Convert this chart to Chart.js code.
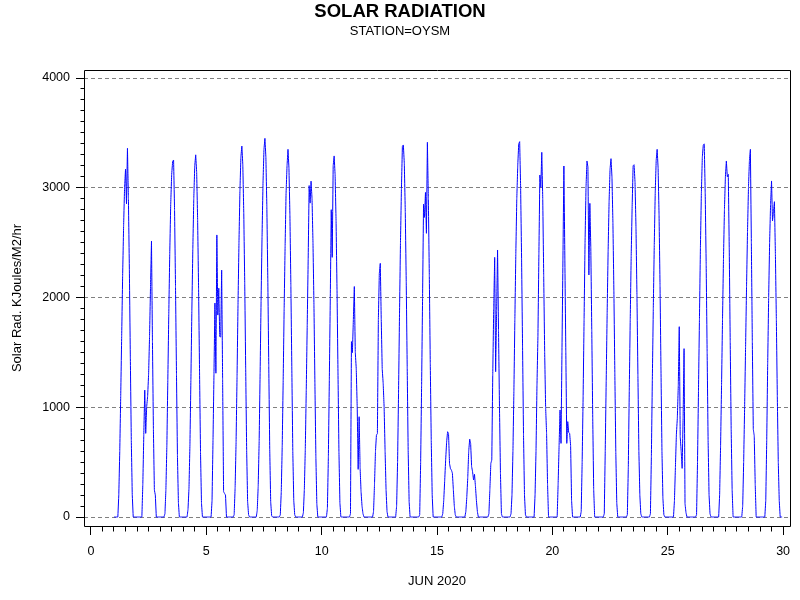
<!DOCTYPE html>
<html>
<head>
<meta charset="utf-8">
<title>Solar Radiation</title>
<script src="https://cdn.jsdelivr.net/npm/chart.js@4.4.1/dist/chart.umd.min.js"></script>
<style>
    html, body { margin: 0; padding: 0; background: #fff; }
    #wrap { width: 800px; height: 600px; }
</style>
</head>
<body>
<div id="wrap"><canvas id="solarChart" width="800" height="600"></canvas></div>
<script>
// Hourly solar radiation (KJoules/M2/hr), one array per day, hours 0..23
const JUN01 = [0,0,0,0,0,200,600,1100,1650,2200,2650,3000,3170,2852,3360,2900,2250,1450,700,200,0,0,0,0];
const JUN02 = [0,0,0,0,0,0,300,750,1157,762,1005,1100,1300,1650,2100,2515,1600,800,246,200,0,0,0,0];
const JUN03 = [0,0,0,0,0,30,250,650,1250,1850,2400,2850,3120,3240,3253,2800,2100,1300,560,130,0,0,0,0];
const JUN04 = [0,0,0,0,0,70,260,660,1250,1880,2440,2900,3200,3300,3140,2710,2080,1320,590,130,0,0,0,0];
const JUN05 = [0,0,0,0,0,0,150,700,1300,1950,1310,2570,1840,2085,1643,1640,2250,1250,230,215,200,0,0,0];
const JUN06 = [0,0,0,0,0,20,270,680,1280,1930,2500,2970,3280,3380,3210,2770,2130,1350,610,140,20,0,0,0];
const JUN07 = [0,0,0,0,0,60,280,690,1310,1970,2550,3040,3350,3450,3280,2830,2170,1380,620,140,10,0,0,0];
const JUN08 = [0,0,0,0,0,20,230,650,1250,1900,2470,2950,3200,3350,3180,2750,2110,1340,600,150,20,0,0,0];
const JUN09 = [0,0,0,0,0,40,250,620,1160,1750,2350,3020,2860,3060,2900,2500,1930,1220,550,120,0,0,0,0];
const JUN10 = [0,0,0,0,0,0,80,550,1250,2000,2800,2366,3200,3290,3120,2700,2070,1320,590,130,0,0,0,0];
const JUN11 = [0,0,0,0,0,0,30,1598,1497,1800,2100,1500,1350,1000,434,914,450,230,100,30,0,0,0,0];
const JUN12 = [0,0,0,0,0,0,50,300,600,747,760,1800,2220,2311,1800,1350,1220,1000,600,250,50,0,0,0];
const JUN13 = [0,0,0,0,0,0,100,500,1130,1850,2500,2990,3380,3390,3220,2780,2140,1360,610,140,0,0,0,0];
const JUN14 = [0,0,0,0,0,0,20,500,1200,2000,2850,2730,2958,2585,3414,2900,2200,1400,700,200,0,0,0,0];
const JUN15 = [0,0,0,0,0,0,30,150,330,520,680,777,762,489,440,428,400,250,100,20,0,0,0,0];
const JUN16 = [0,0,0,0,0,0,50,180,360,600,710,670,460,413,337,390,280,150,50,0,0,0,0,0];
const JUN17 = [0,0,0,0,0,0,30,250,489,520,1300,1900,2366,1324,1880,2433,1700,1000,400,30,0,0,0,0];
const JUN18 = [0,0,0,0,0,30,200,600,1150,1800,2400,2900,3200,3400,3420,3000,2350,1550,750,200,20,0,0,0];
const JUN19 = [0,0,0,0,0,0,200,600,1200,1650,2400,3116,3004,3323,2900,2200,1500,1000,760,300,0,0,0,0];
const JUN20 = [0,0,0,0,0,0,300,650,975,671,1510,2350,3198,2350,1510,671,869,770,762,650,150,0,0,0];
const JUN21 = [0,0,0,0,0,0,50,500,1100,1800,2500,3000,3244,3190,2205,2858,2450,1700,900,250,0,0,0,0];
const JUN22 = [0,0,0,0,0,0,30,600,1240,1860,2420,2870,3170,3265,3100,2680,2060,1310,590,130,0,0,0,0];
const JUN23 = [0,0,0,0,0,0,20,450,1150,1800,2380,2830,3200,3210,3050,2630,2020,1290,600,200,30,0,0,0];
const JUN24 = [0,0,0,0,0,0,30,550,1250,1900,2480,2950,3250,3350,3180,2750,2110,1340,600,170,20,0,0,0];
const JUN25 = [0,0,0,0,0,0,0,150,450,750,900,1200,1734,732,600,443,900,1534,120,40,0,0,0,0];
const JUN26 = [0,0,0,0,0,0,20,500,1150,1800,2450,2950,3280,3390,3400,2950,2300,1500,700,200,30,0,0,0];
const JUN27 = [0,0,0,0,0,0,200,650,1200,1800,2350,2800,3100,3244,3100,3122,2450,1600,800,250,0,0,0,0];
const JUN28 = [0,0,0,0,0,0,100,500,1000,1550,2100,2600,3000,3250,3350,2500,1600,800,740,300,0,0,0,0];
const JUN29 = [0,0,0,0,0,0,150,700,1400,2000,2500,2850,3062,2697,2780,2873,2400,1800,1100,500,150,0,0,0];

const DAYS = [JUN01, JUN02, JUN03, JUN04, JUN05, JUN06, JUN07, JUN08, JUN09, JUN10,
              JUN11, JUN12, JUN13, JUN14, JUN15, JUN16, JUN17, JUN18, JUN19, JUN20,
              JUN21, JUN22, JUN23, JUN24, JUN25, JUN26, JUN27, JUN28, JUN29];
const FIRST_DAY = 1;

// Axis ticks
const X_TICKS = [0, 5, 10, 15, 20, 25, 30];
const Y_TICKS = [0, 1000, 2000, 3000, 4000];
const X_MINOR = 0.5;
const Y_MINOR = 100;

const FONT = '"Liberation Sans", Arial, sans-serif';

// x = day of month + hour/24
const points = [];
DAYS.forEach((hours, i) => {
    hours.forEach((v, h) => points.push({ x: FIRST_DAY + i + h / 24, y: v }));
});

const alignPx = v => Math.round(v - 0.5) + 0.5;

// Box round the plot plus the short minor ticks
const frameAndMinorTicks = {
    id: 'frameAndMinorTicks',
    afterDraw(chart) {
        const { ctx, chartArea: a, scales: { x, y } } = chart;
        ctx.save();
        ctx.strokeStyle = '#000';
        ctx.lineWidth = 1;
        ctx.beginPath();
        const l = alignPx(a.left), r = alignPx(a.right), t = alignPx(a.top), b = alignPx(a.bottom);
        ctx.moveTo(l, t); ctx.lineTo(r, t); ctx.lineTo(r, b); ctx.lineTo(l, b); ctx.closePath();

        const xLast = X_TICKS[X_TICKS.length - 1];
        for (let i = 1; i * X_MINOR < xLast; i++) {
            const v = i * X_MINOR;
            if (X_TICKS.includes(v)) continue;
            const p = alignPx(x.getPixelForValue(v));
            ctx.moveTo(p, b); ctx.lineTo(p, b + 5);
        }
        const yLast = Y_TICKS[Y_TICKS.length - 1];
        for (let i = 1; i * Y_MINOR < yLast; i++) {
            const v = i * Y_MINOR;
            if (Y_TICKS.includes(v)) continue;
            const p = alignPx(y.getPixelForValue(v));
            ctx.moveTo(l, p); ctx.lineTo(l - 4, p);
        }
        ctx.stroke();
        ctx.restore();
    }
};

const ctx = document.getElementById('solarChart').getContext('2d');
const solarChart = new Chart(ctx, {
    type: 'line',
    data: {
        datasets: [{
            label: 'Solar Rad.',
            data: points,
            borderColor: '#0000ff',
            borderWidth: 1,
            pointRadius: 0,
            tension: 0.0001,   // keeps a plain polyline, avoids the fast path pixel collapsing
            fill: false
        }]
    },
    options: {
        responsive: false,
        animation: false,
        devicePixelRatio: 1,
        parsing: false,
        layout: { padding: { top: 0, right: 10, bottom: 0, left: 10 } },
        plugins: {
            legend: { display: false },
            tooltip: { enabled: false },
            title: {
                display: true,
                text: 'SOLAR RADIATION',
                color: '#000',
                font: { family: FONT, size: 18.5, weight: 'bold' },
                padding: { top: 1, bottom: 0 }
            },
            subtitle: {
                display: true,
                text: 'STATION=OYSM',
                color: '#000',
                font: { family: FONT, size: 13 },
                padding: { top: 0, bottom: 31.2 }
            }
        },
        scales: {
            x: {
                type: 'linear',
                min: -0.3,
                max: 30.3,
                afterBuildTicks: s => { s.ticks = X_TICKS.map(v => ({ value: v })); },
                afterFit: s => { s.height = 74; },
                border: { display: false },
                grid: {
                    drawOnChartArea: false,
                    drawTicks: true,
                    tickLength: 9,
                    tickColor: '#000',
                    tickWidth: 1
                },
                ticks: {
                    color: '#000',
                    padding: 9,
                    maxRotation: 0,
                    autoSkip: false,
                    callback: v => String(v),
                    font: { family: FONT, size: 12.5 }
                },
                title: {
                    display: true,
                    text: 'JUN 2020',
                    color: '#000',
                    font: { family: FONT, size: 13 },
                    padding: { top: 0, bottom: 11 }
                }
            },
            y: {
                type: 'linear',
                min: -82,
                max: 4073,
                afterBuildTicks: s => { s.ticks = Y_TICKS.map(v => ({ value: v })); },
                afterFit: s => { s.width = 74; },
                border: { display: false, dash: [4, 3] },
                grid: {
                    color: '#808080',
                    lineWidth: 1,
                    drawTicks: true,
                    tickLength: 8,
                    tickColor: '#000',
                    tickWidth: 1,
                    tickBorderDash: []
                },
                ticks: {
                    color: '#000',
                    padding: 6,
                    autoSkip: false,
                    callback: v => String(v),
                    font: { family: FONT, size: 12.5 }
                },
                title: {
                    display: true,
                    text: 'Solar Rad. KJoules/M2/hr',
                    color: '#000',
                    font: { family: FONT, size: 13 },
                    padding: { top: 0, bottom: 0 }
                }
            }
        }
    },
    plugins: [frameAndMinorTicks]
});
</script>
</body>
</html>
